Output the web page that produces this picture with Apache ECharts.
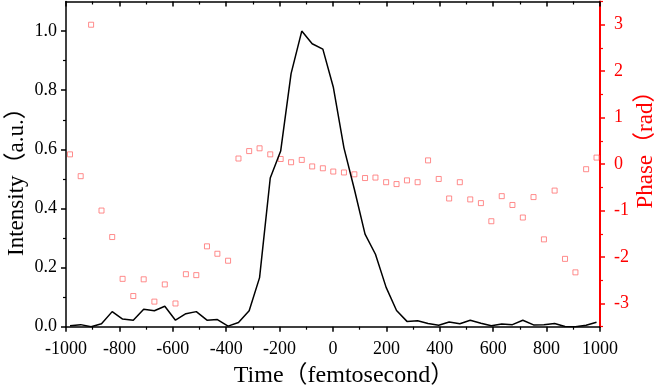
<!DOCTYPE html>
<html>
<head>
<meta charset="utf-8">
<script src="https://cdn.jsdelivr.net/npm/echarts@6/dist/echarts.min.js"></script>
<style>html,body{margin:0;padding:0;background:#fff}#c{width:660px;height:389px}</style>
</head>
<body>
<div id="c"></div>
<script>
// Time samples (fs)
const times = [-985,-945,-906,-867,-827,-788,-748,-709,-669,-630,-590,-551,-512,-472,-433,-393,-354,-314,-275,-235,-196,-157,-117,-78,-38,1,41,80,120,159,199,238,277,317,356,396,435,475,514,554,593,632,672,711,751,790,830,869,908,948,987];
// Intensity (a.u.)
const intensity = [0.003,0.007,0.000,0.010,0.051,0.026,0.022,0.059,0.054,0.069,0.022,0.044,0.051,0.022,0.024,0.002,0.014,0.054,0.166,0.503,0.594,0.856,1.000,0.957,0.939,0.811,0.605,0.465,0.313,0.245,0.133,0.055,0.018,0.020,0.011,0.005,0.016,0.010,0.022,0.012,0.003,0.009,0.007,0.022,0.006,0.007,0.011,0.001,0.000,0.005,0.015];
// Phase (rad)
const phase = [0.21,-0.26,3.00,-1.00,-1.57,-2.47,-2.84,-2.48,-2.96,-2.59,-3.00,-2.37,-2.39,-1.77,-1.93,-2.08,0.12,0.28,0.34,0.21,0.11,0.04,0.09,-0.05,-0.09,-0.16,-0.18,-0.22,-0.30,-0.29,-0.39,-0.43,-0.35,-0.39,0.08,-0.32,-0.74,-0.39,-0.76,-0.84,-1.23,-0.69,-0.88,-1.15,-0.71,-1.62,-0.57,-2.04,-2.33,-0.11,0.14];
// Tick values
const leftTicks = [0,0.2,0.4,0.6,0.8,1.0];
const leftMinor = [0.1,0.3,0.5,0.7,0.9];
const rightTicks = [-3,-2,-1,0,1,2,3];
const rightMinor = [-3.5,-2.5,-1.5,-0.5,0.5,1.5,2.5,3.5];

const FONT = '"Liberation Serif","Noto Sans CJK SC",serif';
const RED = '#ff0000';

const chart = echarts.init(document.getElementById('c'), null, {renderer:'canvas'});
const gridRect = {left:66, right:60, top:1.5, bottom:62.3, containLabel:false, outerBoundsMode:'none'};

const xBase = {
  type:'value', min:-1000, max:1000, interval:200,
  splitLine:{show:false},
  minorTick:{show:true, splitNumber:2, length:3, lineStyle:{color:'#000', width:1.2}}
};

chart.setOption({
  animation:false,
  backgroundColor:'#fff',
  grid:[Object.assign({}, gridRect), Object.assign({}, gridRect)],
  xAxis:[
    Object.assign({}, xBase, {
      gridIndex:0, position:'bottom',
      name:'Time（femtosecond）', nameLocation:'middle', nameGap:37, nameMoveOverlap:false,
      nameTextStyle:{fontFamily:FONT, fontSize:24, color:'#000', padding:[0,0,0,22]},
      axisLine:{onZero:false, lineStyle:{color:'#000', width:1.5}},
      axisLabel:{fontFamily:FONT, fontSize:18, color:'#000', margin:14, formatter:v=>String(v)},
      axisTick:{length:5, inside:false, lineStyle:{color:'#000', width:1.5}}
    }),
    Object.assign({}, xBase, {
      gridIndex:0, position:'top',
      axisLine:{onZero:false, lineStyle:{color:'#000', width:1.5}},
      axisLabel:{show:false},
      axisTick:{length:5, inside:true, lineStyle:{color:'#000', width:1.5}}
    }),
    {
      gridIndex:1, type:'value', min:-1000, max:1000, show:false
    }
  ],
  yAxis:[
    {
      gridIndex:0, type:'value', min:0, max:1.1, position:'left',
      name:'Intensity（a.u.）', nameLocation:'middle', nameGap:38, nameRotate:90, nameMoveOverlap:false,
      nameTextStyle:{fontFamily:FONT, fontSize:23, color:'#000', padding:[0,24,0,0]},
      splitLine:{show:false},
      axisLine:{show:true, onZero:false, lineStyle:{color:'#000', width:1.5}},
      axisTick:{show:true, length:5, customValues:leftTicks, lineStyle:{color:'#000', width:1.5}},
      axisLabel:{fontFamily:FONT, fontSize:18, color:'#000', margin:9, customValues:leftTicks, formatter:v=>v.toFixed(1)}
    },
    {
      gridIndex:0, type:'value', min:-3.5, max:3.5, position:'right',
      name:'Phase（rad）', nameLocation:'middle', nameGap:34, nameRotate:90, nameMoveOverlap:false,
      nameTextStyle:{fontFamily:FONT, fontSize:23, color:RED, padding:[0,0,0,40]},
      splitLine:{show:false},
      axisLine:{show:true, onZero:false, lineStyle:{color:RED, width:2}},
      axisTick:{show:true, length:5, customValues:rightTicks, lineStyle:{color:RED, width:1.5}},
      axisLabel:{fontFamily:FONT, fontSize:18, color:RED, margin:14, customValues:rightTicks, formatter:v=>String(v)}
    },
    {
      gridIndex:1, type:'value', min:0, max:1.1, position:'left',
      splitLine:{show:false},
      axisLine:{show:false, onZero:false},
      axisTick:{show:true, length:3, customValues:leftMinor, lineStyle:{color:'#000', width:1.2}},
      axisLabel:{show:false}
    },
    {
      gridIndex:1, type:'value', min:-3.5, max:3.5, position:'right',
      splitLine:{show:false},
      axisLine:{show:false, onZero:false},
      axisTick:{show:true, length:3, customValues:rightMinor, lineStyle:{color:RED, width:1.2}},
      axisLabel:{show:false}
    }
  ],
  series:[
    {
      type:'line', xAxisIndex:0, yAxisIndex:0,
      data: times.map((t,i)=>[t,intensity[i]]),
      showSymbol:false, symbol:'none',
      lineStyle:{color:'#000', width:1.5},
      z:3
    },
    {
      type:'scatter', xAxisIndex:0, yAxisIndex:1,
      data: times.map((t,i)=>[t,phase[i]]),
      symbol:'rect', symbolSize:5,
      itemStyle:{color:'#fff', borderColor:'#ff6f6f', borderWidth:1},
      z:2
    }
  ]
});
</script>
</body>
</html>
